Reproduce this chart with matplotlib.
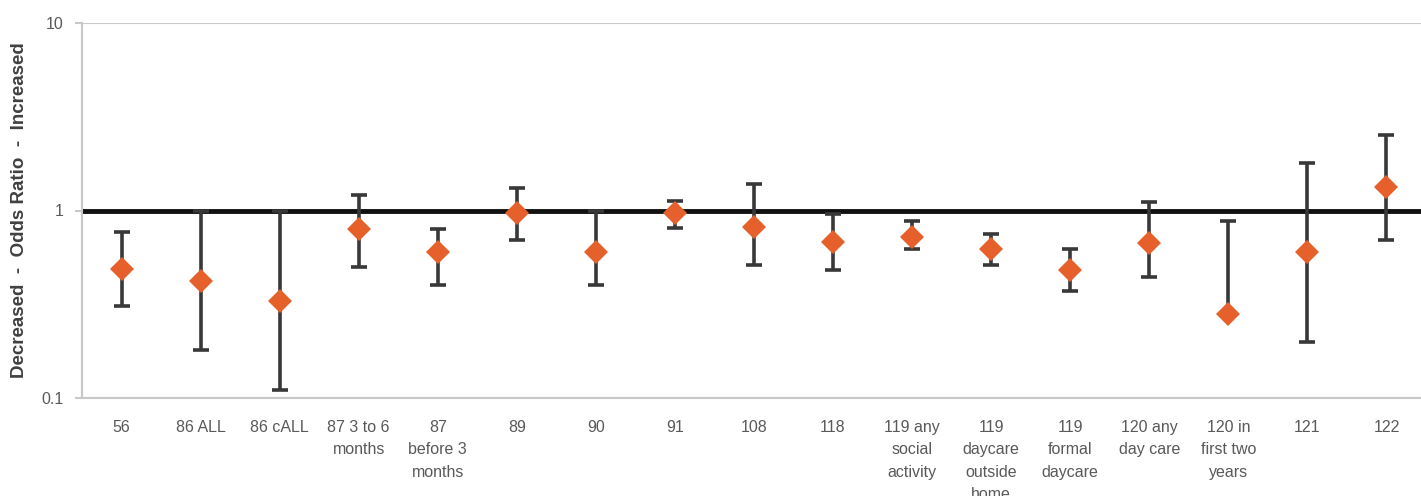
import matplotlib
matplotlib.use("Agg")
import matplotlib.pyplot as plt
import numpy as np

plt.rcParams['font.family'] = ['Liberation Sans', 'DejaVu Sans']

labels = ["56", "86 ALL", "86 cALL", "87 3 to 6\nmonths", "87\nbefore 3\nmonths",
          "89", "90", "91", "108", "118", "119 any\nsocial\nactivity",
          "119\ndaycare\noutside\nhome", "119\nformal\ndaycare", "120 any\nday care",
          "120 in\nfirst two\nyears", "121", "122"]
odds = [0.49, 0.42, 0.33, 0.80, 0.60, 0.97, 0.60, 0.97, 0.82, 0.68, 0.72,
        0.62, 0.48, 0.67, 0.28, 0.60, 1.33]
upper = [0.77, 1.0, 1.0, 1.21, 0.80, 1.32, 1.0, 1.12, 1.38, 0.96, 0.88,
         0.75, 0.62, 1.11, 0.88, 1.80, 2.52]
lower = [0.31, 0.18, 0.11, 0.50, 0.40, 0.70, 0.40, 0.81, 0.51, 0.48, 0.62,
         0.51, 0.37, 0.44, 0.28, 0.20, 0.70]

fig = plt.figure(figsize=(14.21, 4.96), dpi=100)
ax = fig.add_axes([82 / 1421, 98 / 496, (1426 - 82) / 1421, 375 / 496])

x = np.arange(len(labels))
odds_a = np.array(odds)
yerr = [odds_a - np.array(lower), np.array(upper) - odds_a]

ax.axhline(1, color='#111111', lw=3.5, zorder=2)
ax.errorbar(x, odds, yerr=yerr, fmt='none', ecolor='#383838', elinewidth=2.6,
            capsize=6, capthick=2.6, zorder=3)
ax.plot(x, odds, 'D', color='#E5602A', markersize=12.5, markeredgewidth=0, zorder=4)

ax.set_yscale('log')
ax.set_ylim(0.1, 10)
ax.set_xlim(-0.5, len(labels) - 0.5)
ax.set_yticks([0.1, 1, 10])
ax.set_yticklabels(['0.1', '1', '10'])
ax.minorticks_off()
ax.set_xticks(x)
ax.set_xticklabels(labels, linespacing=1.6)
ax.tick_params(axis='x', length=0, pad=16, labelsize=11.5, labelcolor='#595959')
ax.tick_params(axis='y', length=5, color='#c8c8c8', width=1.5, labelsize=11.5,
               labelcolor='#595959', pad=8)
ax.yaxis.grid(True, color='#c8c8c8', lw=1.5)
ax.set_axisbelow(True)
for s in ['top', 'right']:
    ax.spines[s].set_visible(False)
for s in ['left', 'bottom']:
    ax.spines[s].set_color('#c8c8c8')
    ax.spines[s].set_linewidth(1.5)

ax.set_ylabel('Decreased  -  Odds Ratio  -  Increased', fontsize=13.5,
              fontweight='bold', color='#404040', labelpad=10)

fig.savefig('out.png', dpi=100)
